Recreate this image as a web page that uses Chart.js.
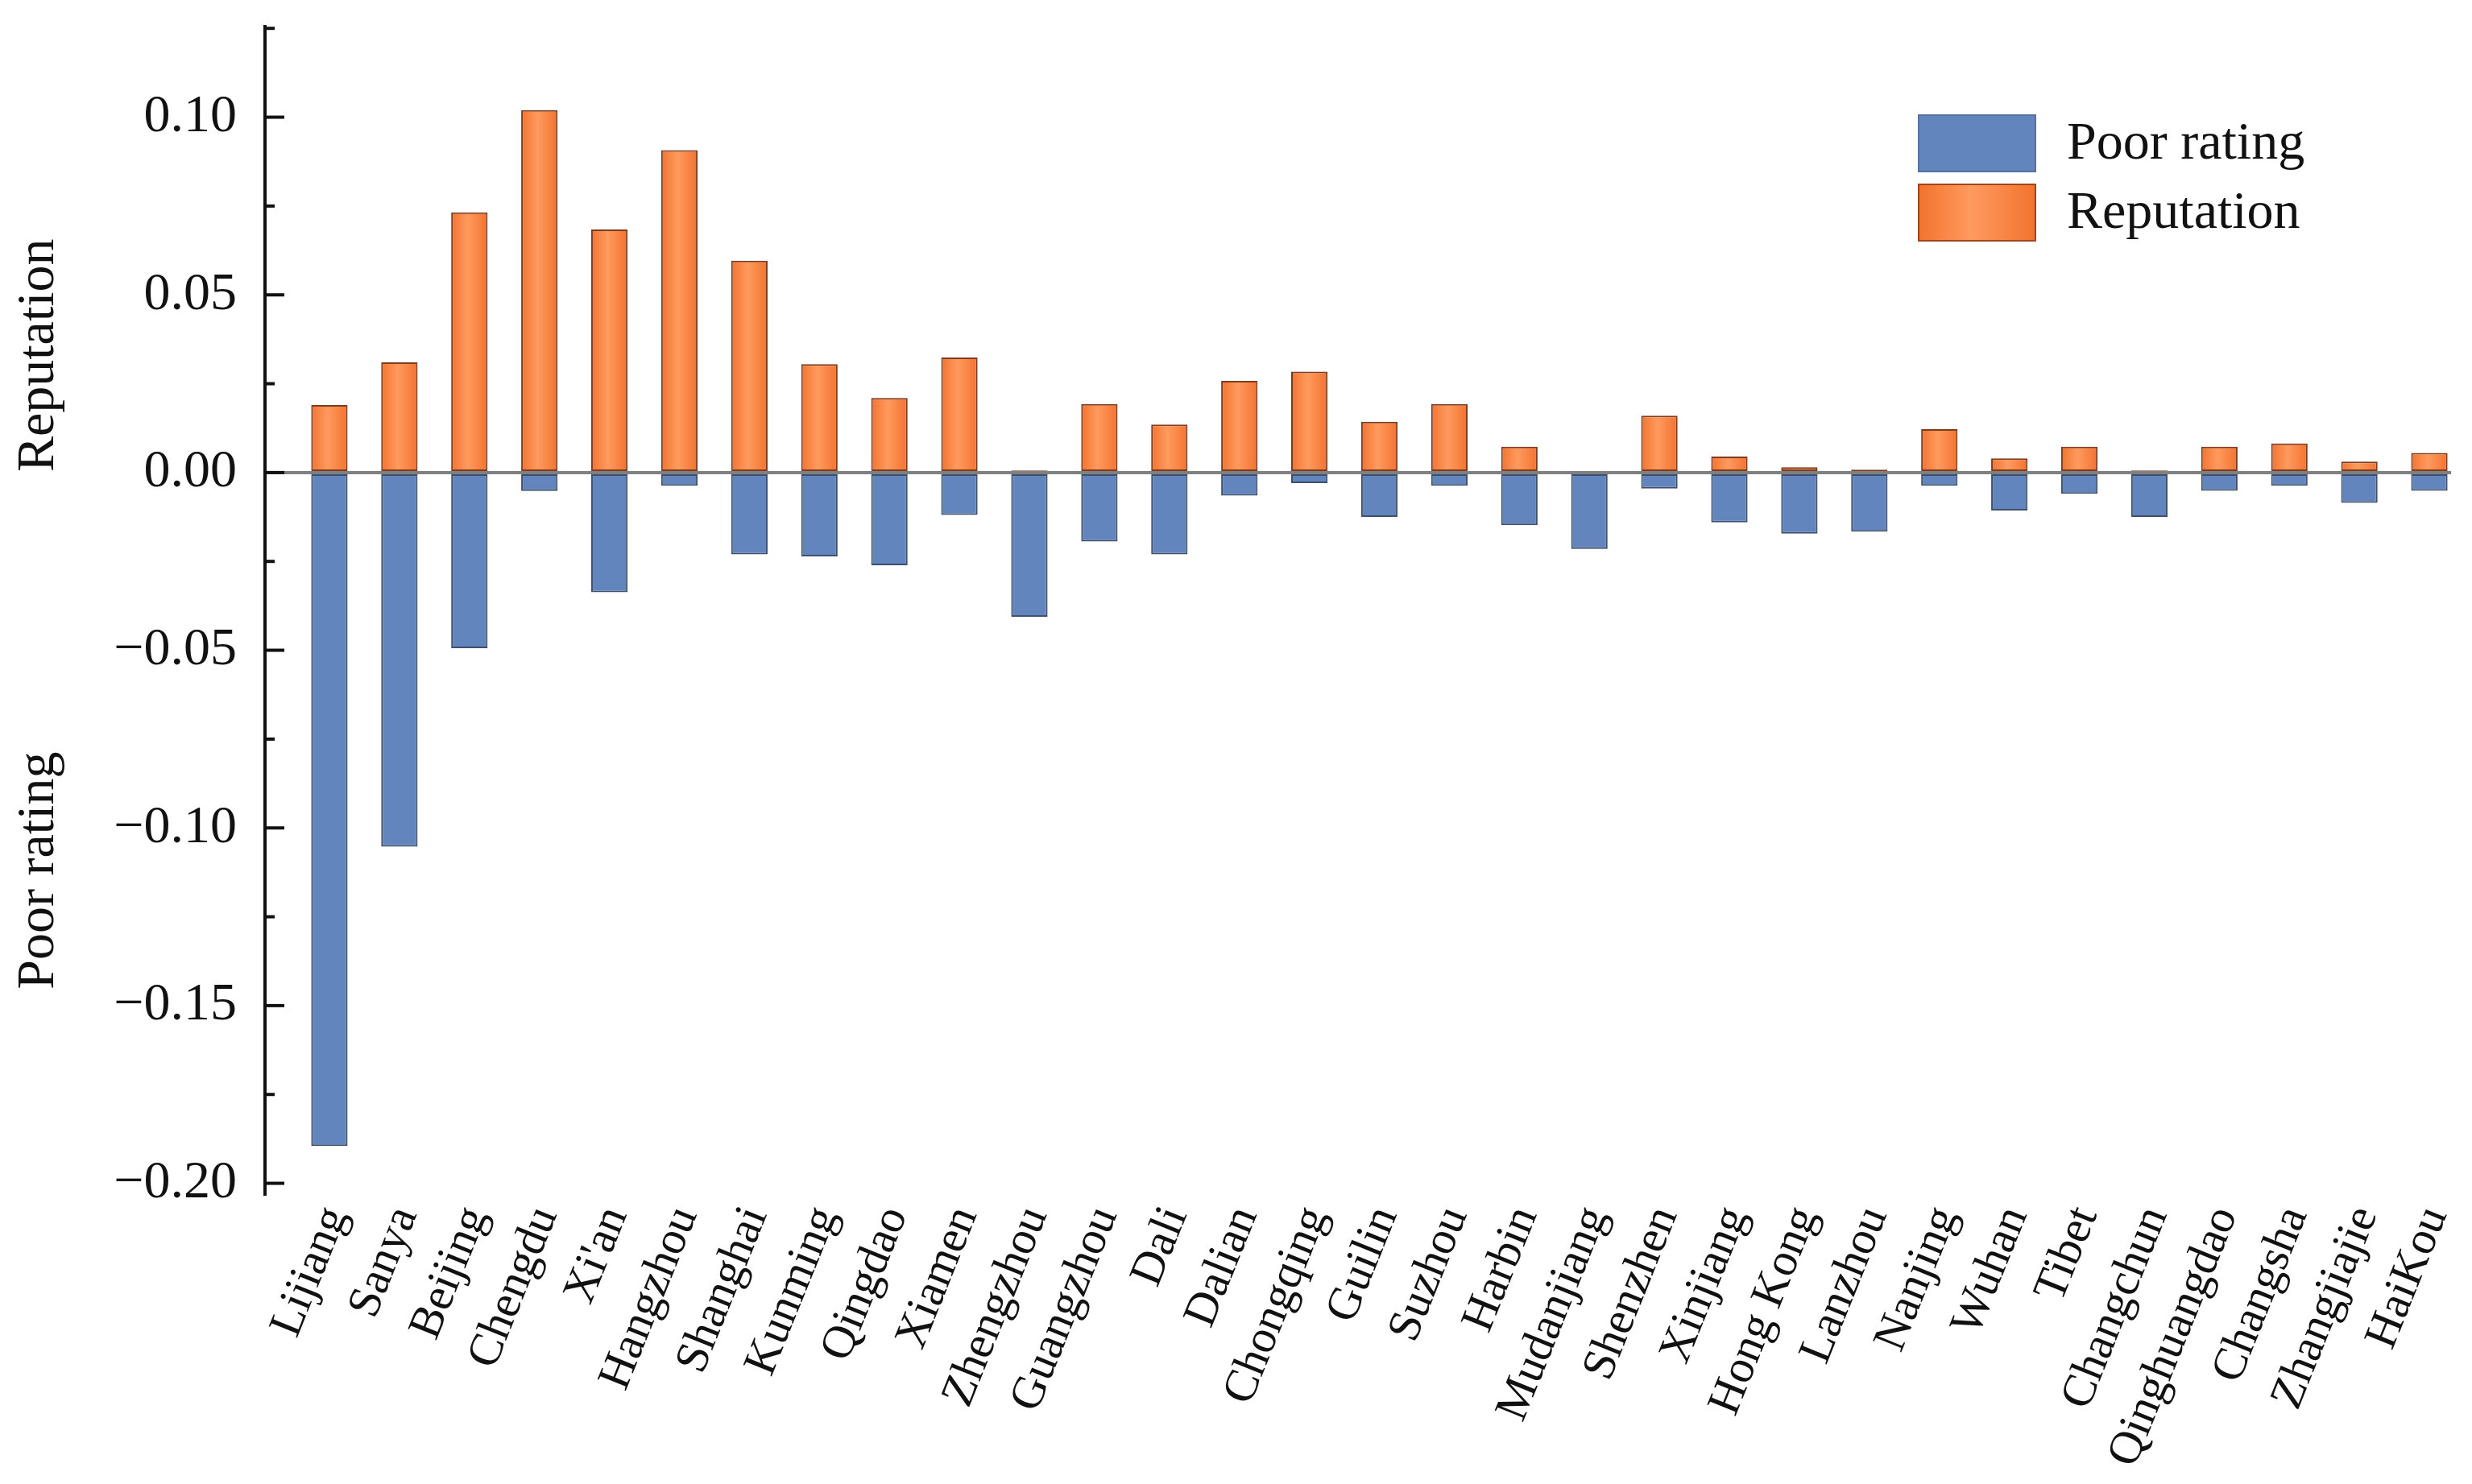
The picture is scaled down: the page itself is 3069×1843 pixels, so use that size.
<!DOCTYPE html>
<html>
<head>
<meta charset="utf-8">
<script src="https://cdn.jsdelivr.net/npm/chart.js@4.4.0/dist/chart.umd.min.js"></script>
<style>
html,body{margin:0;padding:0;background:#ffffff;}
#wrap{width:3069px;height:1843px;position:relative;}
</style>
</head>
<body>
<div id="wrap"><canvas id="c" width="3069" height="1843"></canvas></div>
<script>
const cities = ["Lijiang","Sanya","Beijing","Chengdu","Xi'an","Hangzhou","Shanghai","Kunming","Qingdao","Xiamen","Zhengzhou","Guangzhou","Dali","Dalian","Chongqing","Guilin","Suzhou","Harbin","Mudanjiang","Shenzhen","Xinjiang","Hong Kong","Lanzhou","Nanjing","Wuhan","Tibet","Changchun","Qinghuangdao","Changsha","Zhangjiajie","HaiKou"];
const reputation = [0.0190,0.0310,0.0732,0.1020,0.0684,0.0907,0.0596,0.0305,0.0210,0.0324,0.0006,0.0193,0.0135,0.0258,0.0284,0.0143,0.0193,0.0073,0.0000,0.0160,0.0045,0.0015,0.0008,0.0122,0.0040,0.0073,0.0006,0.0073,0.0082,0.0031,0.0055];
const poorRating = [-0.1895,-0.1053,-0.0494,-0.0052,-0.0337,-0.0037,-0.0230,-0.0236,-0.0261,-0.0119,-0.0406,-0.0194,-0.0230,-0.0065,-0.0030,-0.0125,-0.0037,-0.0148,-0.0215,-0.0045,-0.0140,-0.0172,-0.0166,-0.0037,-0.0107,-0.0060,-0.0125,-0.0051,-0.0037,-0.0085,-0.0051];
const seriesNames = ["Poor rating","Reputation"];
const axisTitles = ["Reputation","Poor rating"];
const yTickStep = 0.05;

const FONT = "'Liberation Serif', 'Times New Roman', serif";
const BAR_FRACTION = 0.52;

function fmtTick(v){
  let s = Math.abs(v) < 1e-9 ? "0.00" : v.toFixed(2);
  return s.replace("-", "\u2212");
}

function orangeFill(c){
  const chart = c.chart;
  const xs = chart.scales && chart.scales.x;
  if (!xs || !c.parsed || xs.width === undefined) return "#F98444";
  const px = xs.getPixelForValue(c.parsed.x);
  const sp = xs.getPixelForValue(1) - xs.getPixelForValue(0);
  const hw = sp * BAR_FRACTION / 2;
  if (!isFinite(px) || !isFinite(hw) || hw <= 0) return "#F98444";
  const g = chart.ctx.createLinearGradient(px - hw, 0, px + hw, 0);
  g.addColorStop(0, "#F2732F");
  g.addColorStop(0.45, "#FF9A5E");
  g.addColorStop(1, "#F2732F");
  return g;
}

const innerTicks = {
  id: "innerTicks",
  afterDraw(chart){
    const ys = chart.scales.y;
    const ctx = chart.ctx;
    const x0 = chart.chartArea.left;
    ctx.save();
    ctx.strokeStyle = "#111111";
    ctx.lineWidth = 4;
    const vals = ys.ticks.map(t => t.value);
    vals.forEach(v => {
      const py = ys.getPixelForValue(v);
      ctx.beginPath(); ctx.moveTo(x0, py); ctx.lineTo(x0 + 24, py); ctx.stroke();
      const mv = v + yTickStep / 2;
      if (mv < ys.max) {
        const pm = ys.getPixelForValue(mv);
        ctx.beginPath(); ctx.moveTo(x0, pm); ctx.lineTo(x0 + 12, pm); ctx.stroke();
      }
    });
    ctx.restore();
  }
};

const splitTitles = {
  id: "splitTitles",
  afterDraw(chart){
    const ys = chart.scales.y;
    const ctx = chart.ctx;
    ctx.save();
    ctx.font = "66px " + FONT;
    ctx.fillStyle = "#111111";
    ctx.textAlign = "center";
    ctx.textBaseline = "middle";
    const xc = chart.chartArea.left - 280;
    [[axisTitles[0], 0.033], [axisTitles[1], -0.112]].forEach(([t, v]) => {
      const py = ys.getPixelForValue(v);
      ctx.save();
      ctx.translate(xc, py);
      ctx.rotate(-Math.PI / 2);
      ctx.fillText(t, 0, 0);
      ctx.restore();
    });
    ctx.restore();
  }
};

const boxLegend = {
  id: "boxLegend",
  afterDraw(chart){
    const ctx = chart.ctx;
    const ca = chart.chartArea;
    const left = ca.right - 661;
    const tops = [ca.top + 110, ca.top + 196];
    const bw = 145, bh = 70;
    ctx.save();
    tops.forEach((t, i) => {
      if (i === 0) {
        ctx.fillStyle = "#6385BD";
        ctx.fillRect(left, t, bw, bh);
        ctx.strokeStyle = "#56729F";
      } else {
        const g = ctx.createLinearGradient(left, 0, left + bw, 0);
        g.addColorStop(0, "#F2732F");
        g.addColorStop(0.45, "#FF9A5E");
        g.addColorStop(1, "#F2732F");
        ctx.fillStyle = g;
        ctx.fillRect(left, t, bw, bh);
        ctx.strokeStyle = "#A0461E";
      }
      ctx.lineWidth = 2;
      ctx.strokeRect(left, t, bw, bh);
      ctx.font = "66px " + FONT;
      ctx.fillStyle = "#111111";
      ctx.textAlign = "left";
      ctx.textBaseline = "middle";
      ctx.fillText(seriesNames[i], left + 184, t + bh / 2 + 2);
    });
    ctx.restore();
  }
};

new Chart(document.getElementById("c"), {
  type: "bar",
  data: {
    datasets: [
      {
        label: seriesNames[0],
        data: poorRating.map((v, i) => ({x: i, y: v})),
        backgroundColor: "#6385BD",
        borderColor: "#3E506E",
        borderWidth: 2,
        borderSkipped: false,
        categoryPercentage: 1,
        barPercentage: BAR_FRACTION
      },
      {
        label: seriesNames[1],
        data: reputation.map((v, i) => ({x: i, y: v})),
        backgroundColor: orangeFill,
        borderColor: "#7E3C1C",
        borderWidth: 2,
        borderSkipped: false,
        categoryPercentage: 1,
        barPercentage: BAR_FRACTION
      }
    ]
  },
  options: {
    responsive: false,
    devicePixelRatio: 1,
    animation: false,
    layout: { padding: { left: 141, right: 26, top: 33, bottom: 0 } },
    plugins: { legend: { display: false }, tooltip: { enabled: false } },
    scales: {
      x: {
        type: "linear",
        stacked: true,
        offset: false,
        min: -0.92,
        max: 30.31,
        grid: { display: false, drawTicks: false, tickLength: 0 },
        border: { display: false },
        afterFit: (s) => { s.height = 358; s.paddingLeft = 0; s.paddingRight = 0; },
        ticks: {
          stepSize: 1,
          autoSkip: false,
          includeBounds: false,
          maxRotation: 68,
          minRotation: 68,
          padding: 4,
          labelOffset: 8,
          color: "#111111",
          font: { family: FONT, size: 58 },
          callback: (v) => (Number.isInteger(v) && cities[v] !== undefined) ? cities[v] : ""
        }
      },
      y: {
        stacked: true,
        min: -0.2035,
        max: 0.1255,
        z: 1,
        afterFit: (s) => { s.width = 188; s.paddingTop = 0; s.paddingBottom = 0; },
        grid: {
          drawTicks: false,
          color: (c) => (c.tick && Math.abs(c.tick.value) < 1e-9) ? "#808080" : "rgba(0,0,0,0)",
          lineWidth: (c) => (c.tick && Math.abs(c.tick.value) < 1e-9) ? 4 : 0
        },
        border: { display: true, color: "#111111", width: 4 },
        ticks: {
          stepSize: yTickStep,
          includeBounds: false,
          padding: 35,
          color: "#111111",
          font: { family: FONT, size: 66 },
          callback: (v) => fmtTick(v)
        }
      }
    }
  },
  plugins: [innerTicks, splitTitles, boxLegend]
});
</script>
</body>
</html>
